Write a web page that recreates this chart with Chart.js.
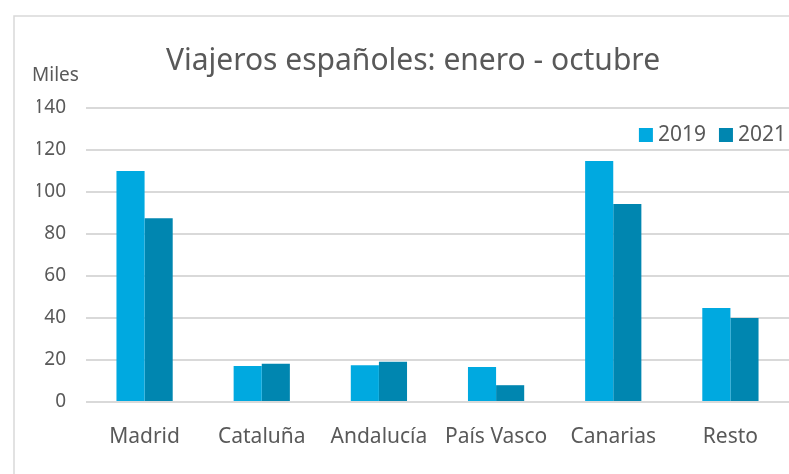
<!DOCTYPE html>
<html>
<head>
<meta charset="utf-8">
<script src="https://cdn.jsdelivr.net/npm/chart.js@4"></script>
<style>
  body { margin: 0; background: #fff; }
  #wrap { position: relative; width: 789px; height: 474px; }
</style>
</head>
<body>
<div id="wrap"><canvas id="chartViajeros" width="789" height="474"></canvas></div>
<script>
const regiones = ["Madrid", "Cataluña", "Andalucía", "País Vasco", "Canarias", "Resto"];
const viajeros2019 = [110, 17.2, 17.5, 16.7, 114.8, 44.8];
const viajeros2021 = [87.5, 18.2, 19.2, 8, 94.3, 40];
const ticksY = [0, 20, 40, 60, 80, 100, 120, 140];

const gris = '#595959';
const fuente = 'Noto Sans';

// marco, rótulo "Miles" y leyenda dentro del área del gráfico
const extras = {
  id: 'extras',
  beforeDraw(chart) {
    const ctx = chart.ctx;
    ctx.save();
    ctx.strokeStyle = '#d9d9d9';
    ctx.lineWidth = 1.5;
    ctx.strokeRect(14, 16, 800, 500);
    ctx.restore();
  },
  afterDraw(chart) {
    const ctx = chart.ctx;
    ctx.save();
    ctx.fillStyle = gris;
    ctx.font = '19px "' + fuente + '"';
    ctx.textBaseline = 'middle';
    ctx.fillText('Miles', 32, 76);

    ctx.font = '21px "' + fuente + '"';
    const y = chart.chartArea.top + 27;
    let x = chart.chartArea.right - 3;
    const sets = chart.data.datasets.slice().reverse();
    sets.forEach((ds) => {
      const w = ctx.measureText(ds.label).width;
      x -= w;
      ctx.fillStyle = gris;
      ctx.fillText(ds.label, x, y);
      x -= 19;
      ctx.fillStyle = ds.backgroundColor;
      ctx.fillRect(x, y - 7, 14, 14);
      x -= 13;
    });
    ctx.restore();
  }
};

const chartViajeros = new Chart(document.getElementById('chartViajeros'), {
  type: 'bar',
  data: {
    labels: regiones,
    datasets: [{
      label: '2019',
      data: viajeros2019,
      backgroundColor: '#00a9e0'
    }, {
      label: '2021',
      data: viajeros2021,
      backgroundColor: '#0086b0'
    }]
  },
  options: {
    responsive: false,
    animation: false,
    categoryPercentage: 0.48,
    barPercentage: 1,
    layout: { padding: { left: 37, right: 0, top: 0, bottom: 0 } },
    plugins: {
      title: {
        display: true,
        text: 'Viajeros españoles: enero - octubre',
        color: gris,
        font: { family: fuente, size: 30, weight: 'normal' },
        padding: { top: 43, bottom: 29 }
      },
      legend: { display: false },
      tooltip: { enabled: false }
    },
    scales: {
      x: {
        afterFit: (axis) => { axis.height = 72; },
        grid: { display: false },
        border: { display: false },
        ticks: { color: gris, font: { family: fuente, size: 21 }, padding: 14 }
      },
      y: {
        min: 0,
        max: 140,
        afterFit: (axis) => { axis.width = 49; },
        afterBuildTicks: (axis) => { axis.ticks = ticksY.map(v => ({ value: v })); },
        grid: { color: '#d9d9d9', lineWidth: 2, drawTicks: false },
        border: { display: false },
        ticks: { color: gris, font: { family: fuente, size: 19 }, padding: 20 }
      }
    }
  },
  plugins: [extras]
});
</script>
</body>
</html>
